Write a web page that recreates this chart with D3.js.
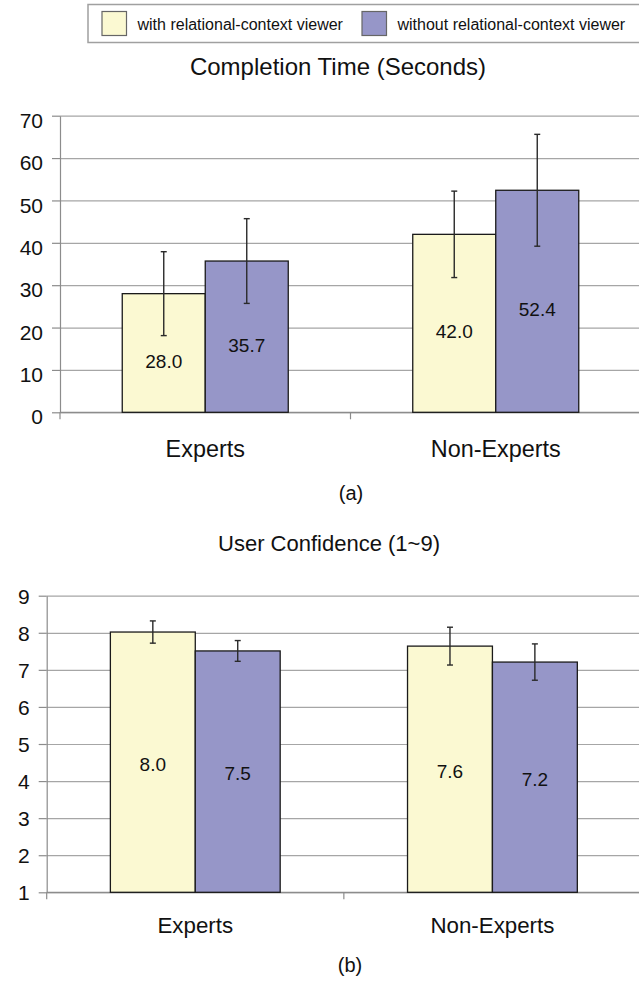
<!DOCTYPE html>
<html>
<head>
<meta charset="utf-8">
<script src="https://cdn.jsdelivr.net/npm/d3@7"></script>
<style>
  body { margin: 0; background: #fff; }
  svg { display: block; font-family: "Liberation Sans", Arial, sans-serif; }
  .grid line { stroke: #a6a6a6; stroke-width: 1.2; }
  .axis path, .axis line { stroke: #8c8c8c; stroke-width: 1.2; }
  .axis text { fill: #111; }
</style>
</head>
<body>
<svg id="chart" width="639" height="981"></svg>
<script>
// --- data ---
const groups = ["Experts", "Non-Experts"];
const seriesNames = ["with relational-context viewer", "without relational-context viewer"];
const seriesColors = ["#fbf9d2", "#9696c8"];

const timeWith = [28.0, 42.0];
const timeWithErr = [9.9, 10.2];
const timeWithout = [35.7, 52.4];
const timeWithoutErr = [10.0, 13.2];
const timeTicks = [0, 10, 20, 30, 40, 50, 60, 70];

const confWith = [8.02, 7.64];
const confWithErr = [0.3, 0.51];
const confWithout = [7.51, 7.21];
const confWithoutErr = [0.28, 0.49];
const confTicks = [1, 2, 3, 4, 5, 6, 7, 8, 9];

const svg = d3.select("#chart");
const tickFont = 21;

// legend
const legend = svg.append("g");
legend.append("rect")
  .attr("x", 88).attr("y", 4.5).attr("width", 560).attr("height", 38)
  .attr("fill", "#fff").attr("stroke", "#a0a0a0").attr("stroke-width", 1.5);
const legendX = [102, 362];
seriesNames.forEach((name, i) => {
  legend.append("rect")
    .attr("x", legendX[i]).attr("y", 11.5).attr("width", 24.5).attr("height", 24)
    .attr("fill", seriesColors[i]).attr("stroke", "#666").attr("stroke-width", 1.2);
  legend.append("text")
    .attr("x", legendX[i] + 35.5).attr("y", 29.5)
    .attr("font-size", 16).attr("fill", "#111")
    .text(name);
});

function drawPanel(cfg) {
  const g = svg.append("g");
  const y = d3.scaleLinear().domain(cfg.yDomain).range([cfg.bottom, cfg.top]);
  const x0 = d3.scaleBand().domain(groups).range([cfg.left, cfg.right])
    .paddingInner(1.5 / 3.5).paddingOuter(0.75 / 3.5);
  const x1 = d3.scaleBand().domain(seriesNames).range([0, x0.bandwidth()]);

  // title
  g.append("text")
    .attr("x", cfg.titleX).attr("y", cfg.titleY)
    .attr("text-anchor", "middle").attr("font-size", cfg.titleSize).attr("fill", "#111")
    .text(cfg.title);

  // gridlines
  g.append("g").attr("class", "grid")
    .attr("transform", `translate(${cfg.left},0)`)
    .call(d3.axisLeft(y).tickValues(cfg.ticks).tickSize(-(cfg.right - cfg.left)).tickFormat(""))
    .call(s => s.select(".domain").remove());

  // y axis
  g.append("g").attr("class", "axis")
    .attr("transform", `translate(${cfg.left},0)`)
    .call(d3.axisLeft(y).tickValues(cfg.ticks).tickSize(8).tickSizeOuter(0).tickPadding(9))
    .call(s => s.selectAll("text")
      .attr("font-size", tickFont).attr("font-family", "Liberation Sans, Arial, sans-serif")
      .attr("dy", (0.36 * tickFont + cfg.tickShift) + "px"));

  // x axis line and category boundary ticks
  const xa = g.append("g").attr("class", "axis");
  xa.append("line")
    .attr("x1", cfg.left).attr("x2", cfg.right)
    .attr("y1", cfg.bottom).attr("y2", cfg.bottom);
  d3.range(groups.length + 1).forEach(i => {
    const bx = cfg.left + i * x0.step();
    xa.append("line").attr("x1", bx).attr("x2", bx)
      .attr("y1", cfg.bottom).attr("y2", cfg.bottom + 7);
  });
  groups.forEach(grp => {
    g.append("text")
      .attr("x", x0(grp) + x0.bandwidth() / 2).attr("y", cfg.bottom + cfg.catOffset)
      .attr("text-anchor", "middle").attr("font-size", cfg.catSize).attr("fill", "#111")
      .text(grp);
  });

  // bars
  const rows = [];
  groups.forEach((grp, gi) => {
    cfg.series.forEach((s, si) => {
      rows.push({ grp, name: seriesNames[si], color: seriesColors[si], value: s.values[gi], err: s.errs[gi] });
    });
  });

  g.selectAll("rect.bar").data(rows).enter().append("rect")
    .attr("class", "bar")
    .attr("x", d => x0(d.grp) + x1(d.name))
    .attr("width", x1.bandwidth())
    .attr("y", d => y(d.value))
    .attr("height", d => cfg.bottom - y(d.value))
    .attr("fill", d => d.color)
    .attr("stroke", "#1a1a1a").attr("stroke-width", 1.3);

  // value labels
  g.selectAll("text.val").data(rows).enter().append("text")
    .attr("class", "val")
    .attr("x", d => x0(d.grp) + x1(d.name) + x1.bandwidth() / 2)
    .attr("y", d => (y(d.value) + cfg.bottom) / 2 + cfg.labelShift + 0.36 * 19)
    .attr("text-anchor", "middle").attr("font-size", 19).attr("fill", "#111")
    .text(d => d.value.toFixed(1));

  // error bars
  const eb = g.selectAll("g.err").data(rows).enter().append("g")
    .attr("class", "err")
    .attr("stroke", "#2a2a2a").attr("stroke-width", 1.4);
  const cx = d => x0(d.grp) + x1(d.name) + x1.bandwidth() / 2;
  eb.append("line")
    .attr("x1", cx).attr("x2", cx)
    .attr("y1", d => y(d.value + d.err)).attr("y2", d => y(d.value - d.err));
  eb.append("line")
    .attr("x1", d => cx(d) - 3).attr("x2", d => cx(d) + 3)
    .attr("y1", d => y(d.value + d.err)).attr("y2", d => y(d.value + d.err));
  eb.append("line")
    .attr("x1", d => cx(d) - 3).attr("x2", d => cx(d) + 3)
    .attr("y1", d => y(d.value - d.err)).attr("y2", d => y(d.value - d.err));

  // caption
  g.append("text")
    .attr("x", cfg.captionX).attr("y", cfg.captionY)
    .attr("text-anchor", "middle").attr("font-size", 20).attr("fill", "#111")
    .text(cfg.caption);
}

drawPanel({
  title: "Completion Time (Seconds)", titleX: 338, titleY: 75, titleSize: 24,
  yDomain: [0, 70], ticks: timeTicks, tickShift: 4,
  left: 60, right: 641, top: 115.7, bottom: 412.3,
  catOffset: 45, catSize: 23.4, labelShift: 8,
  series: [
    { values: timeWith, errs: timeWithErr },
    { values: timeWithout, errs: timeWithoutErr }
  ],
  caption: "(a)", captionX: 351, captionY: 500
});

drawPanel({
  title: "User Confidence (1~9)", titleX: 329, titleY: 551, titleSize: 22,
  yDomain: [1, 9], ticks: confTicks, tickShift: 0,
  left: 46.7, right: 641, top: 595.7, bottom: 892.3,
  catOffset: 41, catSize: 22.3, labelShift: 1.5,
  series: [
    { values: confWith, errs: confWithErr },
    { values: confWithout, errs: confWithoutErr }
  ],
  caption: "(b)", captionX: 350, captionY: 972
});
</script>
</body>
</html>
